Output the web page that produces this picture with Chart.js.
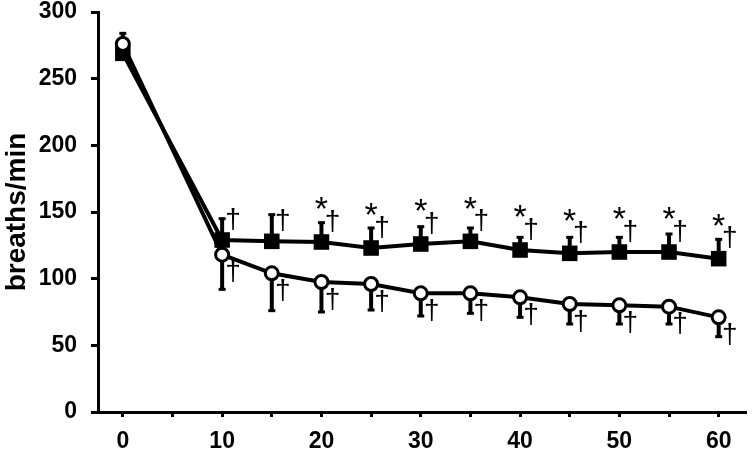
<!DOCTYPE html>
<html>
<head>
<meta charset="utf-8">
<script src="https://cdn.jsdelivr.net/npm/chart.js@4/dist/chart.umd.min.js"></script>
<style>
  html, body { margin: 0; padding: 0; background: #fff; }
  #wrap { width: 756px; height: 454px; position: relative; }
</style>
</head>
<body>
<div id="wrap"><canvas id="chart"></canvas></div>
<script>
// minutes
const timePoints = [0, 10, 15, 20, 25, 30, 35, 40, 45, 50, 55, 60];

// filled squares, SD drawn upwards
const squareMean = [269, 129, 128, 127.5, 123, 126, 128, 121.5, 119, 120, 120, 115];
const squareErrTop = [284, 145, 148, 142, 138, 139, 138, 131, 131, 131, 133.5, 129.5];

// open circles, SD drawn downwards
const circleMean = [276, 118, 104, 97.5, 96, 89, 89, 86, 81, 80, 79, 71];
const circleErrBottom = [268, 92, 76, 75, 76.5, 72, 74, 71, 66, 66, 66, 56.5];

// significance marks
const starTimes = [20, 25, 30, 35, 40, 45, 50, 55, 60];
const daggerTimes = [10, 15, 20, 25, 30, 35, 40, 45, 50, 55, 60];

const yTicks = [0, 50, 100, 150, 200, 250, 300];
const xTicks = [0, 5, 10, 15, 20, 25, 30, 35, 40, 45, 50, 55, 60];

const FONT = "'Liberation Sans', Arial, sans-serif";

function toPoints(ys) {
  return timePoints.map((t, i) => ({ x: t, y: ys[i] }));
}

const errorBars = {
  id: 'errorBars',
  beforeDatasetsDraw(chart) {
    const ctx = chart.ctx;
    const xs = chart.scales.x;
    const ys = chart.scales.y;
    ctx.save();
    ctx.fillStyle = '#000';
    const drawBar = (t, from, to) => {
      const px = xs.getPixelForValue(t);
      const p1 = ys.getPixelForValue(from);
      const p2 = ys.getPixelForValue(to);
      ctx.fillRect(px - 2, Math.min(p1, p2), 4, Math.abs(p2 - p1));
      ctx.fillRect(px - 3.5, p2 - 1.5, 7, 3);
    };
    timePoints.forEach((t, i) => {
      drawBar(t, squareMean[i], squareErrTop[i]);
      drawBar(t, circleMean[i], circleErrBottom[i]);
    });
    ctx.restore();
  },
  afterDatasetsDraw(chart) {
    const ctx = chart.ctx;
    const xs = chart.scales.x;
    const ys = chart.scales.y;
    ctx.save();
    ctx.fillStyle = '#000';
    ctx.textAlign = 'center';
    ctx.textBaseline = 'middle';
    timePoints.forEach((t, i) => {
      const px = xs.getPixelForValue(t);
      const sq = ys.getPixelForValue(squareMean[i]);
      const ci = ys.getPixelForValue(circleMean[i]);
      if (daggerTimes.includes(t)) {
        ctx.font = '28px ' + FONT;
        ctx.fillText('\u2020', px + 11, sq - 20);
        ctx.fillText('\u2020', px + 11, ci + 18);
      }
      if (starTimes.includes(t)) {
        ctx.font = '34px ' + FONT;
        ctx.fillText('*', px, sq - 31);
      }
    });
    ctx.restore();
  }
};

new Chart(document.getElementById('chart'), {
  type: 'line',
  data: {
    datasets: [
      {
        label: 'circles',
        data: toPoints(circleMean),
        borderColor: '#000',
        borderWidth: 4,
        backgroundColor: '#fff',
        pointStyle: 'circle',
        pointRadius: 6.5,
        pointBorderWidth: 3,
        pointBorderColor: '#000',
        pointBackgroundColor: '#fff',
        tension: 0
      },
      {
        label: 'squares',
        data: toPoints(squareMean),
        borderColor: '#000',
        borderWidth: 4,
        backgroundColor: '#000',
        pointStyle: 'rect',
        pointRadius: 11,
        pointBorderWidth: 0,
        pointBackgroundColor: '#000',
        tension: 0
      }
    ]
  },
  plugins: [errorBars],
  options: {
    responsive: true,
    maintainAspectRatio: false,
    animation: false,
    layout: { padding: { top: 12, right: 4, left: 0, bottom: 0 } },
    plugins: {
      legend: { display: false },
      tooltip: { enabled: false }
    },
    scales: {
      x: {
        type: 'linear',
        min: -2.5,
        max: 62.65,
        afterBuildTicks(scale) {
          scale.ticks = xTicks.map((v) => ({ value: v }));
        },
        afterFit(scale) {
          scale.height = 42;
          scale.paddingLeft = 0;
          scale.paddingRight = 0;
        },
        border: { display: true, color: '#000', width: 3 },
        grid: {
          display: true,
          drawOnChartArea: false,
          drawTicks: true,
          tickLength: 5,
          color: '#000',
          lineWidth: 3
        },
        ticks: {
          color: '#000',
          padding: 11,
          maxRotation: 0,
          autoSkip: false,
          font: { family: FONT, size: 23, weight: 'bold' },
          callback: (v) => (v % 10 === 0 ? String(v) : '')
        }
      },
      y: {
        min: 0,
        max: 300,
        afterBuildTicks(scale) {
          scale.ticks = yTicks.map((v) => ({ value: v }));
        },
        afterFit(scale) {
          scale.width = 98;
          scale.paddingTop = 0;
          scale.paddingBottom = 0;
        },
        border: { display: true, color: '#000', width: 3 },
        grid: {
          display: true,
          drawOnChartArea: false,
          drawTicks: true,
          tickLength: 7,
          color: '#000',
          lineWidth: 3
        },
        ticks: {
          color: '#000',
          padding: 14,
          font: { family: FONT, size: 23, weight: 'bold' }
        },
        title: {
          display: true,
          text: 'breaths/min',
          color: '#000',
          padding: { top: 0, bottom: 0 },
          font: { family: FONT, size: 28, weight: 'bold' }
        }
      }
    }
  }
});
</script>
</body>
</html>
